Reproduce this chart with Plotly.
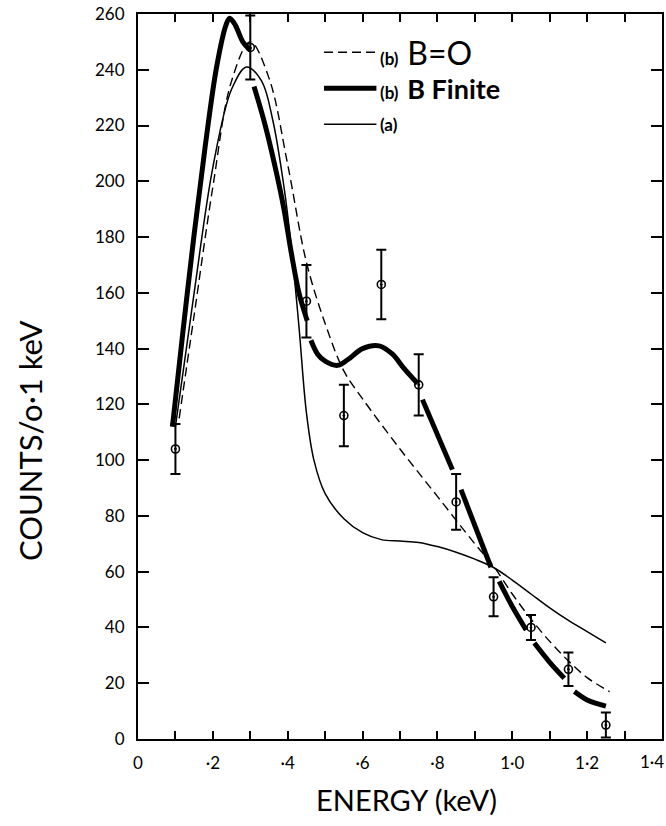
import plotly.graph_objects as go

# Measured spectrum: energy (keV), counts per 0.1 keV, and symmetric errors
energy = [0.10, 0.30, 0.45, 0.55, 0.65, 0.75, 0.85, 0.95, 1.05, 1.15, 1.25]
counts = [104, 248, 157, 116, 163, 127, 85, 51, 40, 25, 5]
errors = [9, 11.5, 13, 11, 12.5, 11, 10, 7, 4.5, 6, 4.5]

# Model (b), B = 0 (dashed)
b0_x = [0.11, 0.15, 0.20, 0.25, 0.30, 0.35, 0.40, 0.45, 0.50, 0.55, 0.60, 0.70,
        0.80, 0.90, 0.95, 1.00, 1.05, 1.10, 1.15, 1.20, 1.26]
b0_y = [115, 152, 198, 236, 250, 237, 206, 171, 149, 132, 122, 104,
        87, 70, 62, 52, 43, 35, 28, 22, 17]

# Model (b), B finite (heavy line, drawn in broken segments)
bf_x = [0.092, 0.12, 0.15, 0.18, 0.21, 0.235, 0.245, 0.26, 0.28, 0.30, None,
        0.31, 0.34, 0.37, 0.39, 0.41, 0.43, 0.445, 0.452, None,
        0.462, 0.48, 0.50, 0.533, 0.56, 0.60, 0.644, 0.68, 0.71, 0.747, None,
        0.76, 0.84, None,
        0.863, 0.943, None,
        0.965, 1.00, 1.037, None,
        1.059, 1.10, 1.139, None,
        1.166, 1.20, 1.25]
bf_y = [112, 146, 181, 213, 241, 256, 258.5, 256, 250, 247, None,
        234, 220, 203, 190, 174, 160, 153, 150, None,
        143, 138, 135.5, 134, 136, 140, 141, 138, 133, 127.5, None,
        121.7, 96.6, None,
        89.4, 61.6, None,
        56.5, 47.5, 39.1, None,
        34.4, 27.5, 21.8, None,
        17, 14, 11.8]

# Model (a) (thin line)
a_x = [0.10, 0.15, 0.20, 0.25, 0.29, 0.33, 0.36, 0.39, 0.41, 0.43, 0.45, 0.47,
       0.50, 0.55, 0.60, 0.65, 0.70, 0.75, 0.80, 0.85, 0.90, 0.95, 1.00, 1.05,
       1.10, 1.15, 1.20, 1.25]
a_y = [112, 160, 205, 233, 241, 236, 222, 198, 176, 148, 117, 100,
       88, 79, 74, 71.5, 71, 70.5, 69, 67, 64.5, 61.5, 57, 52,
       47, 42.5, 38.5, 34.5]

x_ticks = [round(0.1 * i, 1) for i in range(15)]
# the last label ("1·4") sits at the right edge and is placed separately
x_tick_text = ["0", "", "·2", "", "·4", "", "·6", "", "·8", "", "1·0", "", "1·2", "", ""]
x_last_label = "1·4"
y_ticks = list(range(0, 261, 20))
y_tick_text = [str(v) for v in y_ticks]

FONT = "Lato"
INK = "black"

fig = go.Figure()

fig.add_trace(go.Scatter(
    x=b0_x, y=b0_y, mode="lines", line_shape="spline",
    line=dict(color=INK, width=1.4, dash="9px,5px"), showlegend=False))

fig.add_trace(go.Scatter(
    x=a_x, y=a_y, mode="lines", line_shape="spline",
    line=dict(color=INK, width=1.5), showlegend=False))

fig.add_trace(go.Scatter(
    x=bf_x, y=bf_y, mode="lines", line_shape="spline", connectgaps=False,
    line=dict(color=INK, width=5), showlegend=False))

fig.add_trace(go.Scatter(
    x=energy, y=counts, mode="markers",
    marker=dict(symbol="circle-open-dot", size=8, color=INK,
                line=dict(color=INK, width=1.6)),
    error_y=dict(type="data", array=errors, visible=True,
                 color=INK, thickness=2, width=5),
    showlegend=False))

# Key in the upper right
key_rows = [
    (246.3, dict(color=INK, width=1.4, dash="9px,5px"),
     "<b style='font-size:17px'>(b)</b>  <span style='font-size:32px'>B=O</span>"),
    (233.4, dict(color=INK, width=5),
     "<b style='font-size:17px'>(b)</b>  <b style='font-size:27px'>B Finite</b>"),
    (220.5, dict(color=INK, width=1.5),
     "<b style='font-size:17px'>(a)</b>"),
]
for yv, ln, label in key_rows:
    fig.add_shape(type="line", xref="x", yref="y", x0=0.497, x1=0.637,
                  y0=yv, y1=yv, line=ln)
    fig.add_annotation(x=0.640, y=yv, xref="x", yref="y", text=label,
                       showarrow=False, xanchor="left", yanchor="middle",
                       font=dict(family=FONT, size=17, color=INK))

# Right-most x tick label, kept inside the page
fig.add_annotation(x=1.0076, y=-0.031, xref="paper", yref="paper",
                   text=x_last_label, showarrow=False,
                   xanchor="right", yanchor="middle",
                   font=dict(family=FONT, size=17, color=INK))

# Axis titles
fig.add_annotation(x=-0.206, y=0.411, xref="paper", yref="paper",
                   text="COUNTS/o·1 keV", textangle=-90, showarrow=False,
                   xanchor="center", yanchor="middle",
                   font=dict(family=FONT, size=31, color=INK))
fig.add_annotation(x=0.513, y=-0.084, xref="paper", yref="paper",
                   text="ENERGY (keV)", showarrow=False,
                   xanchor="center", yanchor="middle",
                   font=dict(family=FONT, size=29, color=INK))

axis_common = dict(
    showgrid=False, zeroline=False, showline=True, linecolor=INK, linewidth=2,
    mirror="ticks", ticks="inside", tickcolor=INK, tickwidth=1.6,
    tickfont=dict(family=FONT, size=17, color=INK),
    ticklabeloverflow="allow", automargin=False,
)

fig.update_layout(
    width=666, height=826,
    margin=dict(l=138, r=4, t=14, b=87),
    paper_bgcolor="white", plot_bgcolor="white",
    xaxis=dict(range=[0, 1.4], tickmode="array", tickvals=x_ticks,
               ticktext=x_tick_text, ticklen=8, ticklabelstandoff=8,
               **axis_common),
    yaxis=dict(range=[0, 260], tickmode="array", tickvals=y_ticks,
               ticktext=y_tick_text, ticklen=11, ticklabelstandoff=8,
               **axis_common),
)

fig.write_html("out.html")
